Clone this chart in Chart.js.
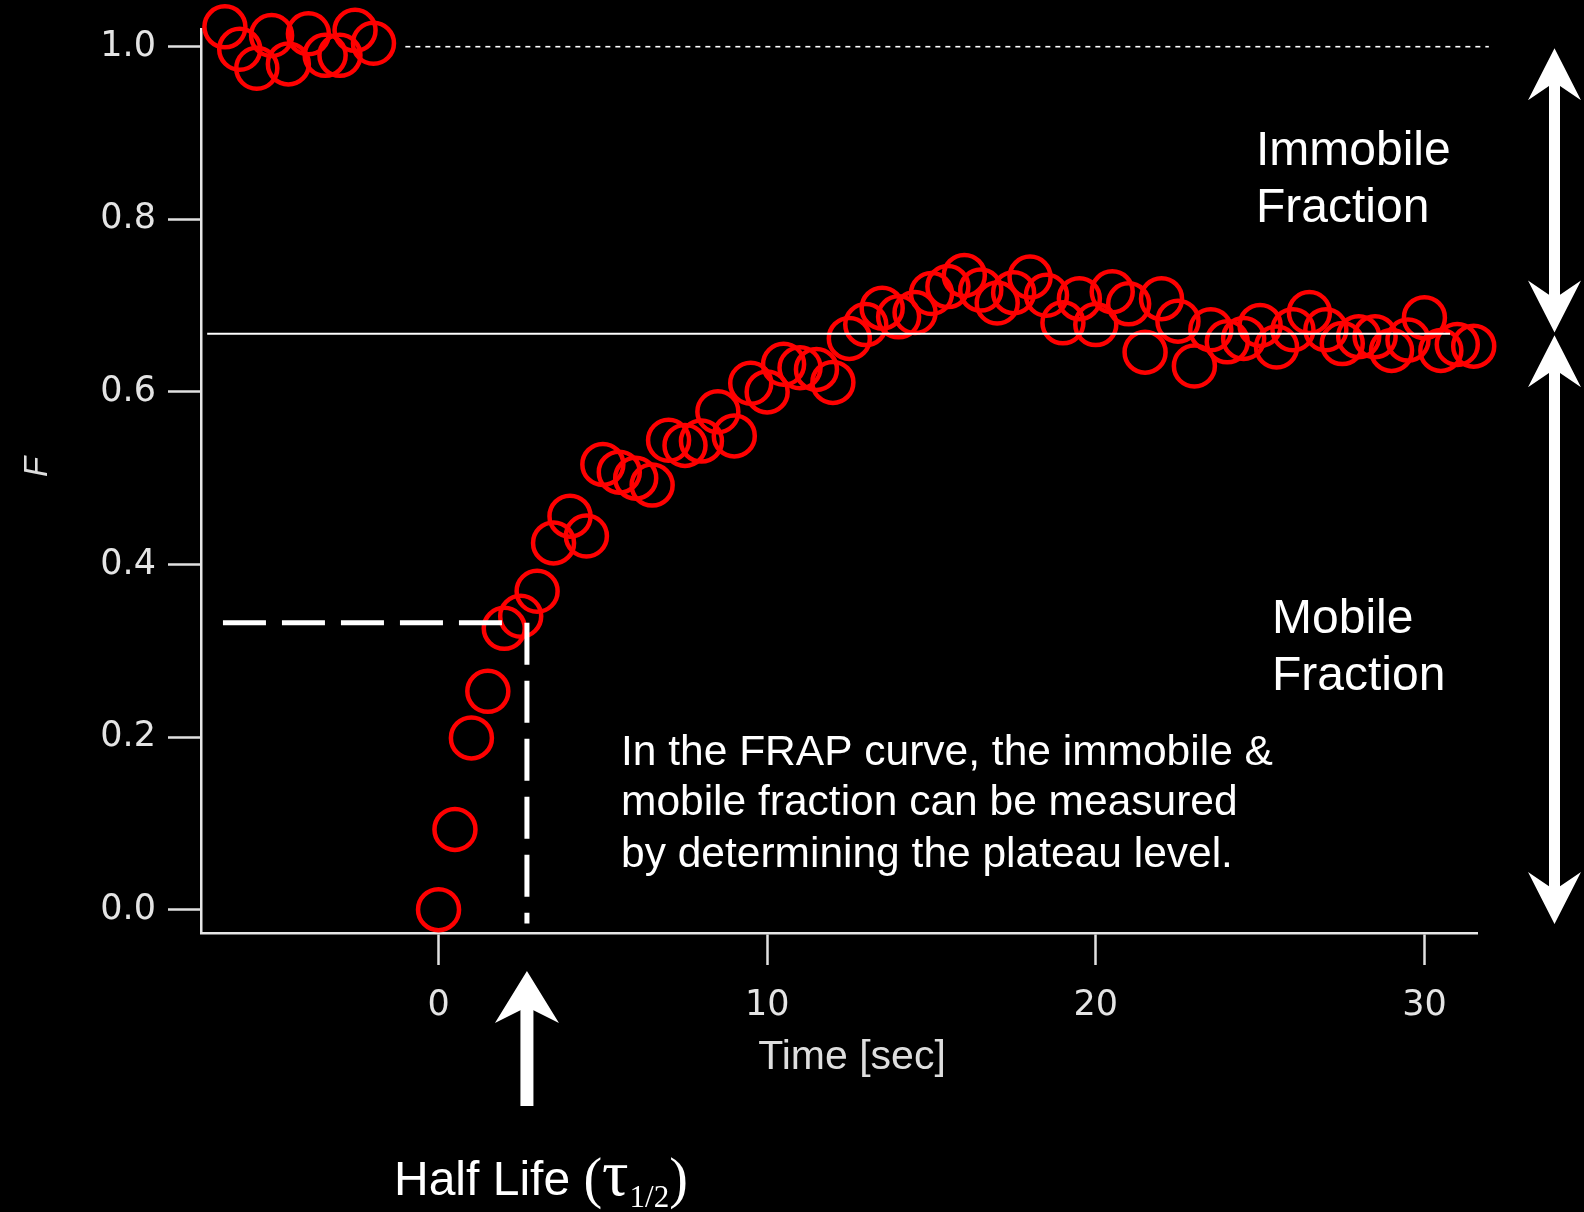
<!DOCTYPE html>
<html><head><meta charset="utf-8">
<script src="https://cdn.jsdelivr.net/npm/chart.js@4.4.1/dist/chart.umd.min.js"></script>
<style>html,body{margin:0;padding:0;background:#000;overflow:hidden}canvas{display:block}</style>
</head><body>
<canvas id="c" width="1584" height="1212"></canvas>
<script>
// ---- data ----
const preTimes  = [-6.50,-6.05,-5.53,-5.08,-4.57,-3.96,-3.45,-3.00,-2.54,-1.98];
const preValues = [1.023,0.997,0.975,1.013,0.980,1.015,0.990,0.990,1.019,1.004];

const postTimes = [0,0.5,1,1.5,2,2.5,3,3.5,4,4.5,5,5.5,6,6.5,7,7.5,8,8.5,9,9.5,10,10.5,11,11.5,12,12.5,13,13.5,14,14.5,15,15.5,16,16.5,17,17.5,18,18.5,19,19.5,20,20.5,21,21.5,22,22.5,23,23.5,24,24.5,25,25.5,26,26.5,27,27.5,28,28.5,29,29.5,30,30.5,31,31.5];
const postValues = [0.000,0.093,0.199,0.253,0.326,0.340,0.369,0.425,0.456,0.433,0.516,0.507,0.500,0.492,0.544,0.538,0.543,0.577,0.549,0.610,0.600,0.632,0.628,0.626,0.611,0.662,0.678,0.697,0.687,0.692,0.714,0.722,0.735,0.718,0.703,0.715,0.733,0.712,0.680,0.708,0.678,0.716,0.702,0.646,0.708,0.682,0.630,0.672,0.658,0.662,0.677,0.652,0.672,0.692,0.672,0.656,0.664,0.664,0.648,0.660,0.686,0.648,0.655,0.653];

const xTicks = [0,10,20,30];
const yTicks = [0.0,0.2,0.4,0.6,0.8,1.0];
const xTitle = 'Time [sec]';
const yTitle = 'F';

const prebleachLevel = 1.0;
const prebleachLineX = [-1.01, 31.96];
const plateauLevel = 0.6675;
const plateauLineX = [-7.04, 30.78];
const halfLevel = 0.3326;
const halfLineX = [-6.56, 1.93];
const halfTime = 2.69;
const halfLineBottom = -0.016;
const fractionArrowLevels = [1.0, 0.6675, -0.0166];

const xMin = -7.228, xMax = 31.60, yMin = -0.027, yMax = 1.0205;

// ---- build datasets ----
const prePoints = preTimes.map((t,i)=>({x:t,y:preValues[i]}));
const postPoints = postTimes.map((t,i)=>({x:t,y:postValues[i]}));

const bgPlugin = {id:'bg', beforeDraw(chart){const c=chart.ctx;c.save();c.fillStyle='#000';c.fillRect(0,0,chart.width,chart.height);c.restore();}};

function drawArrowHead(ctx, x, tipY, s, halfW, len, notch){
  ctx.beginPath();
  ctx.moveTo(x, tipY);
  ctx.lineTo(x+halfW, tipY + s*len);
  ctx.lineTo(x, tipY + s*notch);
  ctx.lineTo(x-halfW, tipY + s*len);
  ctx.closePath();
  ctx.fill();
}
function drawDoubleArrow(ctx, x, yTop, yBot, shaftW, halfW, len, notch){
  ctx.fillRect(x-shaftW/2, yTop+notch-1, shaftW, (yBot-notch+1)-(yTop+notch-1));
  drawArrowHead(ctx, x, yTop, 1, halfW, len, notch);
  drawArrowHead(ctx, x, yBot, -1, halfW, len, notch);
}

const annotPlugin = {
  id:'annot',
  afterDraw(chart){
    const ctx = chart.ctx, xs = chart.scales.x, ys = chart.scales.y;
    ctx.save();
    // axis titles
    ctx.fillStyle = '#dedede';
    ctx.textAlign = 'center';
    ctx.textBaseline = 'alphabetic';
    ctx.font = '41px "Liberation Sans", Arial, sans-serif';
    ctx.fillText(xTitle, 852, 1069);
    ctx.save();
    ctx.translate(47, 467);
    ctx.rotate(-Math.PI/2);
    ctx.font = 'italic 33px "Liberation Sans", Arial, sans-serif';
    ctx.fillText(yTitle, 0, 0);
    ctx.restore();

    ctx.fillStyle = '#fff';
    // right double arrows
    const ax = 1554.5;
    const yA = ys.getPixelForValue(fractionArrowLevels[0]) + 1.5;
    const yM = ys.getPixelForValue(fractionArrowLevels[1]);
    const yB = ys.getPixelForValue(fractionArrowLevels[2]);
    drawDoubleArrow(ctx, ax, yA, yM - 1.2, 11, 26.5, 52, 34);
    drawDoubleArrow(ctx, ax, yM + 1.6, yB, 11, 26.5, 52, 34);
    // half-life arrow
    const hx = xs.getPixelForValue(halfTime);
    const tipY = 971;
    ctx.fillRect(hx-6.5, tipY+34, 13, 1106-(tipY+34));
    drawArrowHead(ctx, hx, tipY, 1, 32, 52, 36);

    // texts
    ctx.textBaseline = 'alphabetic';
    ctx.textAlign = 'left';
    ctx.font = '48px "Liberation Sans", Arial, sans-serif';
    ctx.fillText('Immobile', 1256, 165);
    ctx.fillText('Fraction', 1256, 222);
    ctx.fillText('Mobile', 1272, 633);
    ctx.fillText('Fraction', 1272, 690);

    ctx.font = '42.5px "Liberation Sans", Arial, sans-serif';
    ctx.fillText('In the FRAP curve, the immobile &', 621, 765);
    ctx.fillText('mobile fraction can be measured', 621, 815);
    ctx.fillText('by determining the plateau level.', 621, 867);

    // Half Life (τ1/2)
    let x = 394; const base = 1195;
    ctx.font = '48px "Liberation Sans", Arial, sans-serif';
    ctx.fillText('Half Life ', x, base); x += ctx.measureText('Half Life ').width;
    ctx.font = '56px "Liberation Serif", "Times New Roman", serif';
    ctx.fillText('(', x, base + 2); x += ctx.measureText('(').width;
    ctx.font = '66px "Liberation Serif", "Times New Roman", serif';
    ctx.fillText('τ', x, base); x += ctx.measureText('τ').width + 1;
    ctx.font = '31px "Liberation Serif", "Times New Roman", serif';
    ctx.fillText('1/2', x, base + 12); x += ctx.measureText('1/2').width;
    ctx.font = '56px "Liberation Serif", "Times New Roman", serif';
    ctx.fillText(')', x, base + 2);
    ctx.restore();
  }
};

function zeroPad(s){ s.paddingTop=0; s.paddingBottom=0; s.paddingLeft=0; s.paddingRight=0; }

new Chart(document.getElementById('c'), {
  type:'scatter',
  data:{datasets:[
    {type:'line', data: plateauLineX.map(v=>({x:v,y:plateauLevel})), borderColor:'#fff', borderWidth:2, pointRadius:0, tension:0, order:0},
    {type:'line', data: prebleachLineX.map(v=>({x:v,y:prebleachLevel})), borderColor:'#fff', borderWidth:1.6, borderDash:[5,5], pointRadius:0, tension:0, clip:false, order:0},
    {type:'line', data: halfLineX.map(v=>({x:v,y:halfLevel})), borderColor:'#fff', borderWidth:5, borderDash:[43,16], borderCapStyle:'butt', pointRadius:0, tension:0, order:0},
    {type:'line', data:[{x:halfTime,y:halfLevel},{x:halfTime,y:halfLineBottom}], borderColor:'#fff', borderWidth:5, borderDash:[42,16], borderCapStyle:'butt', pointRadius:0, tension:0, clip:false, order:0},
    {data: prePoints, showLine:false, pointStyle:'circle', pointRadius:20.5, pointBorderWidth:4.5, pointBackgroundColor:'rgba(0,0,0,0)', pointBorderColor:'#ff0000', borderColor:'#ff0000', backgroundColor:'rgba(0,0,0,0)', clip:false, order:1},
    {data: postPoints, showLine:false, pointStyle:'circle', pointRadius:20.5, pointBorderWidth:4.5, pointBackgroundColor:'rgba(0,0,0,0)', pointBorderColor:'#ff0000', borderColor:'#ff0000', backgroundColor:'rgba(0,0,0,0)', clip:false, order:1}
  ]},
  options:{
    responsive:false, animation:false, devicePixelRatio:1,
    layout:{padding:{left:0, top:29, right:107, bottom:0}},
    plugins:{legend:{display:false}, tooltip:{enabled:false}},
    scales:{
      x:{type:'linear', min:xMin, max:xMax,
        afterBuildTicks:s=>{s.ticks = xTicks.map(v=>({value:v}));},
        afterFit:s=>{s.height = 279; zeroPad(s);},
        ticks:{color:'#e4e4e4', font:{family:'"DejaVu Sans", sans-serif', size:35}, padding:20, maxRotation:0, autoSkip:false, callback:v=>String(v)},
        grid:{display:true, drawOnChartArea:false, drawTicks:true, tickLength:32, tickWidth:2.5, tickColor:'#e0e0e0', color:'#e0e0e0'},
        border:{display:true, color:'#e6e6e6', width:2.5},
        title:{display:false}
      },
      y:{type:'linear', min:yMin, max:yMax,
        afterBuildTicks:s=>{s.ticks = yTicks.map(v=>({value:v}));},
        afterFit:s=>{s.width = 201; zeroPad(s);},
        ticks:{color:'#e4e4e4', font:{family:'"DejaVu Sans", sans-serif', size:35}, padding:12, autoSkip:false, callback:v=>Number(v).toFixed(1)},
        grid:{display:true, drawOnChartArea:false, drawTicks:true, tickLength:33, tickWidth:2.5, tickColor:'#e0e0e0', color:'#e0e0e0'},
        border:{display:true, color:'#e6e6e6', width:2.5},
        title:{display:false}
      }
    }
  },
  plugins:[bgPlugin, annotPlugin]
});
</script>
</body></html>
